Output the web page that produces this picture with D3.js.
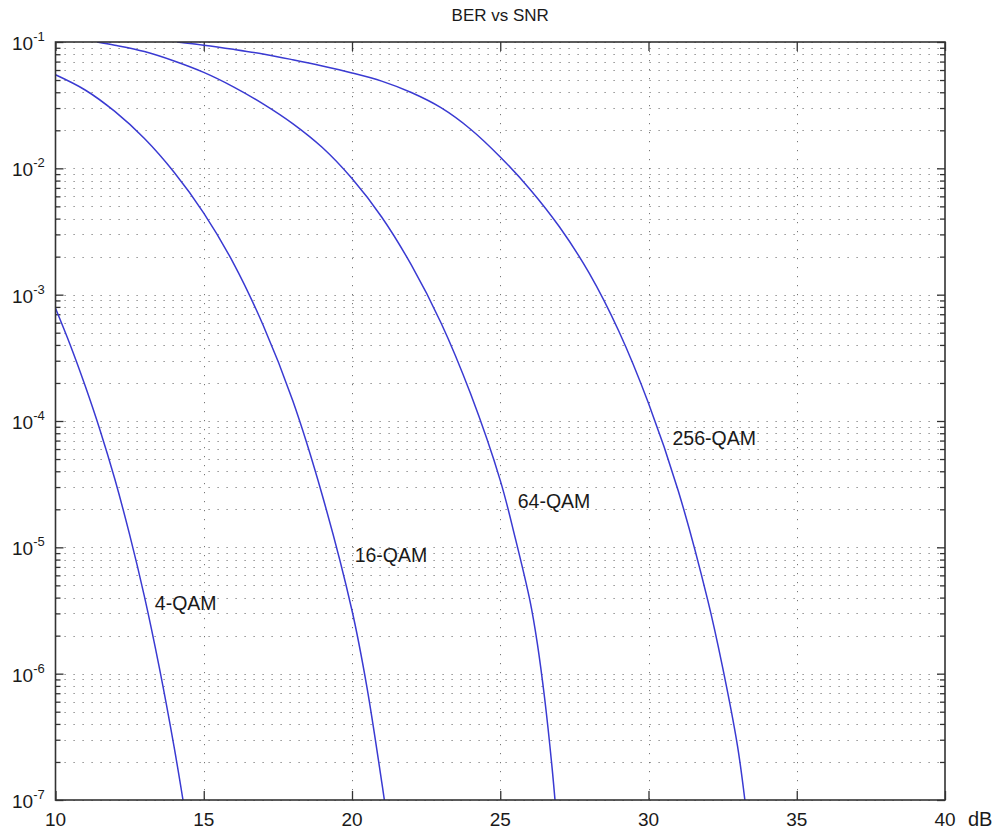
<!DOCTYPE html>
<html>
<head>
<meta charset="utf-8">
<script src="https://cdn.jsdelivr.net/npm/d3@7"></script>
<style>
  body { margin: 0; background: #fff; }
  svg { font-family: "Liberation Sans", Arial, sans-serif; }
</style>
</head>
<body>
<div id="chart"></div>
<script>
// SNR in dB, BER
const snr4 = [10, 10.5, 11, 11.5, 12, 12.5, 13, 13.5, 14, 14.3];
const ber4 = [7.8e-4, 3.98e-4, 1.9e-4, 8.5e-5, 3.47e-5, 1.26e-5, 4.07e-6, 1.12e-6, 2.63e-7, 1.0e-7];

const snr16 = [10, 11, 12, 13, 14, 15, 16, 17, 18, 19, 20, 20.5, 21, 21.12];
const ber16 = [5.5e-2, 4.17e-2, 2.82e-2, 1.72e-2, 9.3e-3, 4.42e-3, 1.78e-3, 5.75e-4, 1.45e-4, 2.57e-5, 3.16e-6, 7.9e-7, 1.4e-7, 9.0e-8];

const snr64 = [11.4, 12, 13, 14, 15, 16, 17, 18, 19, 20, 21, 22, 23, 24, 25, 25.5, 26, 26.25, 26.5, 26.75, 26.9];
const ber64 = [1.0e-1, 9.44e-2, 8.41e-2, 7.08e-2, 5.75e-2, 4.42e-2, 3.24e-2, 2.26e-2, 1.46e-2, 8.3e-3, 4.12e-3, 1.72e-3, 6.0e-4, 1.64e-4, 3.39e-5, 1.2e-5, 3.8e-6, 1.74e-6, 6.3e-7, 1.78e-7, 7.1e-8];

const snr256 = [14.1, 15, 16, 17, 18, 19, 20, 21, 22, 23, 24, 25, 26, 27, 28, 29, 30, 31, 32, 32.5, 33, 33.25];
const ber256 = [1.0e-1, 9.44e-2, 8.75e-2, 8.04e-2, 7.24e-2, 6.46e-2, 5.69e-2, 4.9e-2, 3.98e-2, 3.02e-2, 2.04e-2, 1.23e-2, 6.84e-3, 3.43e-3, 1.48e-3, 5.13e-4, 1.38e-4, 2.82e-5, 3.8e-6, 1.12e-6, 2.69e-7, 1.0e-7];

const curveNames = ["4-QAM", "16-QAM", "64-QAM", "256-QAM"];
const curveSnr = [snr4, snr16, snr64, snr256];
const curveBer = [ber4, ber16, ber64, ber256];
// where each curve label sits, in data units
const labelSnr = [13.35, 20.09, 25.59, 30.81];
const labelBer = [3.18e-6, 7.6e-6, 2.04e-5, 6.45e-5];

const xTicks = [10, 15, 20, 25, 30, 35, 40];
const yDecades = [-7, -6, -5, -4, -3, -2, -1];

const W = 999, H = 830;
const plotL = 55.5, plotR = 945, plotT = 42, plotB = 800;

const svg = d3.select("#chart").append("svg")
    .attr("width", W)
    .attr("height", H);

const x = d3.scaleLinear().domain([10, 40]).range([plotL, plotR]);
const y = d3.scaleLog().domain([1e-7, 1e-1]).range([plotB, plotT]);

const majorY = yDecades.map(k => Math.pow(10, k));
const minorY = [];
yDecades.slice(0, -1).forEach(function (k) {
    for (let m = 2; m <= 9; m++) minorY.push(m * Math.pow(10, k));
});

// dotted grid
const grid = svg.append("g")
    .attr("stroke", "#777")
    .attr("stroke-width", 1)
    .attr("stroke-dasharray", "1.2,7.8");
grid.selectAll(".h").data(majorY.concat(minorY)).join("line")
    .attr("x1", plotL).attr("x2", plotR)
    .attr("y1", d => Math.round(y(d)) + 0.5)
    .attr("y2", d => Math.round(y(d)) + 0.5);
grid.selectAll(".v").data(xTicks.slice(1, -1)).join("line")
    .attr("y1", plotT).attr("y2", plotB)
    .attr("x1", d => Math.round(x(d)) + 0.5)
    .attr("x2", d => Math.round(x(d)) + 0.5);

// ticks (inward)
function noDomain(g) { g.select(".domain").remove(); g.selectAll("line").attr("stroke", "#333").attr("stroke-width", 1.3); }

svg.append("g").attr("transform", `translate(${plotL},0)`)
    .call(d3.axisLeft(y).tickValues(majorY).tickSize(-8).tickFormat("")).call(noDomain);
svg.append("g").attr("transform", `translate(${plotL},0)`)
    .call(d3.axisLeft(y).tickValues(minorY).tickSize(-5).tickFormat("")).call(noDomain);
svg.append("g").attr("transform", `translate(${plotR},0)`)
    .call(d3.axisRight(y).tickValues(majorY).tickSize(-8).tickFormat("")).call(noDomain);
svg.append("g").attr("transform", `translate(${plotR},0)`)
    .call(d3.axisRight(y).tickValues(minorY).tickSize(-5).tickFormat("")).call(noDomain);
svg.append("g").attr("transform", `translate(0,${plotB})`)
    .call(d3.axisBottom(x).tickValues(xTicks).tickSize(-9).tickFormat("")).call(noDomain);
svg.append("g").attr("transform", `translate(0,${plotT})`)
    .call(d3.axisTop(x).tickValues(xTicks).tickSize(-9).tickFormat("")).call(noDomain);

// curves
svg.append("defs").append("clipPath").attr("id", "clip")
    .append("rect")
    .attr("x", plotL).attr("y", plotT)
    .attr("width", plotR - plotL).attr("height", plotB - plotT);

const line = d3.line()
    .x(d => x(d[0]))
    .y(d => y(d[1]))
    .curve(d3.curveCatmullRom.alpha(0.5));

const curves = svg.append("g").attr("clip-path", "url(#clip)");
curveNames.forEach(function (name, i) {
    const pts = curveSnr[i].map((s, j) => [s, curveBer[i][j]]);
    curves.append("path")
        .datum(pts)
        .attr("fill", "none")
        .attr("stroke", "#3a3ad2")
        .attr("stroke-width", 1.5)
        .attr("d", line);
});

// box
svg.append("rect")
    .attr("x", plotL).attr("y", plotT)
    .attr("width", plotR - plotL).attr("height", plotB - plotT)
    .attr("fill", "none")
    .attr("stroke", "#333")
    .attr("stroke-width", 1.6);

// curve labels
curveNames.forEach(function (name, i) {
    svg.append("text")
        .attr("x", x(labelSnr[i]))
        .attr("y", y(labelBer[i]))
        .attr("font-size", 19.5)
        .attr("fill", "#1a1a1a")
        .text(name);
});

// y tick labels 10^k
yDecades.forEach(function (k) {
    const t = svg.append("text")
        .attr("x", 12)
        .attr("y", y(Math.pow(10, k)) + 8)
        .attr("font-size", 19)
        .attr("fill", "#1a1a1a");
    t.append("tspan").text("10");
    t.append("tspan").attr("dy", -9).attr("font-size", 13).text(k);
});

// x tick labels
svg.append("g").selectAll("text").data(xTicks).join("text")
    .attr("x", d => x(d))
    .attr("y", 826)
    .attr("text-anchor", "middle")
    .attr("font-size", 19)
    .attr("fill", "#1a1a1a")
    .text(d => d);

svg.append("text")
    .attr("x", 968)
    .attr("y", 826)
    .attr("font-size", 20)
    .attr("fill", "#1a1a1a")
    .text("dB");

svg.append("text")
    .attr("x", (plotL + plotR) / 2)
    .attr("y", 21)
    .attr("text-anchor", "middle")
    .attr("font-size", 17)
    .attr("fill", "#1a1a1a")
    .text("BER vs SNR");
</script>
</body>
</html>
